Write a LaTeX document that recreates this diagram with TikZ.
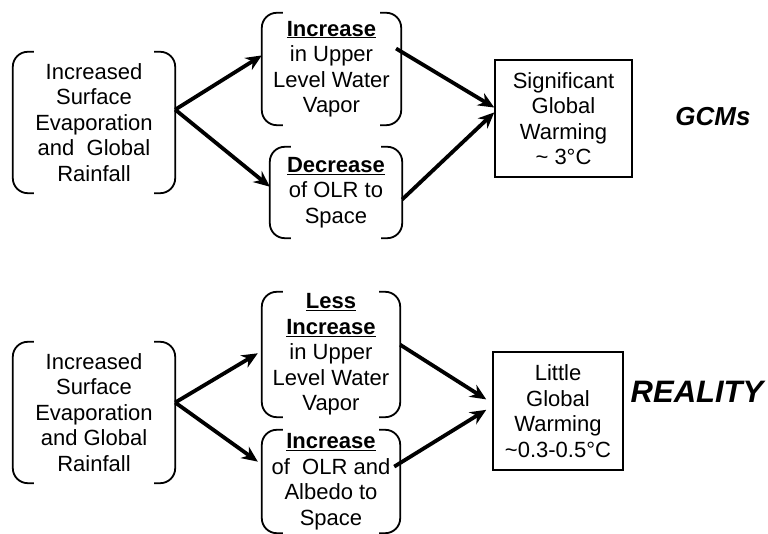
\documentclass[tikz,border=0pt]{standalone}
\usepackage{fontspec}
\setmainfont{Liberation Sans}
\usetikzlibrary{arrows.meta}

% rounded side brackets round a node
\newcommand{\sidebrackets}[1]{%
  \draw[bracket line] ([xshift=21pt]#1.north west) -- ([xshift=15pt]#1.north west)
    arc[start angle=90,end angle=180,radius=15pt] -- ([yshift=15pt]#1.south west)
    arc[start angle=180,end angle=270,radius=15pt] -- ([xshift=21pt]#1.south west);
  \draw[bracket line] ([xshift=-21pt]#1.north east) -- ([xshift=-15pt]#1.north east)
    arc[start angle=90,end angle=0,radius=15pt] -- ([yshift=15pt]#1.south east)
    arc[start angle=0,end angle=-90,radius=15pt] -- ([xshift=-21pt]#1.south east);
}

\begin{document}
\begin{tikzpicture}[x=1pt,y=1pt]
        \tikzstyle{every node}=[align=center, inner sep=0pt, font=\fontsize{22}{25.5}\selectfont]
        \tikzstyle{bracket line}=[line width=1.8pt]
        \tikzstyle{result}=[draw, line width=1.5pt]
        \tikzstyle{push}=[line width=3.8pt, -{Stealth[length=16pt,width=14pt]}]
        \tikzstyle{verdict}=[font=\fontsize{26}{30}\selectfont\bfseries\itshape]
        \useasboundingbox (0,0) rectangle (768,534);

        % GCMs
        \node[minimum width=162, minimum height=141] (A1) at (94,411.5) {Increased\\Surface\\Evaporation\\and\ \ Global\\Rainfall};
        \node[minimum width=139, minimum height=112] (B1) at (331.5,465) {\underline{\textbf{Increase}}\\in Upper\\Level Water\\Vapor};
        \node[minimum width=132, minimum height=91] (C1) at (336,341.5) {\underline{\textbf{Decrease}}\\of OLR to\\Space};
        \node[result, minimum width=137, minimum height=117] (D1) at (563.5,415.5) {Significant\\Global\\Warming\\\textasciitilde\ 3°C};
        \node[verdict] (G) at (713,417) {GCMs};
        \sidebrackets{A1}
        \sidebrackets{B1}
        \sidebrackets{C1}
        \draw[push] (A1.9) -- (B1.169);
        \draw[push] (A1.9) -- (C1.175);
        \draw[push, shorten <=-6pt] (B1.14) -- (D1.171);
        \draw[push] (C1.-6) -- (D1.175);

        % REALITY
        \node[minimum width=162, minimum height=141] (A2) at (94,121.5) {Increased\\Surface\\Evaporation\\and Global\\Rainfall};
        \node[minimum width=138, minimum height=125] (B2) at (331,179.5) {\underline{\textbf{Less}}\\\underline{\textbf{Increase}}\\in Upper\\Level Water\\Vapor};
        \node[minimum width=138, minimum height=103] (C2) at (331,52.5) {\underline{\textbf{Increase}}\\of\ \ OLR and\\Albedo to\\Space};
        \node[result, minimum width=130, minimum height=118] (D2) at (558,123) {Little\\Global\\Warming\\\textasciitilde0.3-0.5°C};
        \node[verdict, font=\fontsize{31}{35}\selectfont\bfseries\itshape] (R) at (697,142) {REALITY};
        \sidebrackets{A2}
        \sidebrackets{B2}
        \sidebrackets{C2}
        \draw[push] (A2.7) -- ([xshift=-4pt]B2.179);
        \draw[push] (A2.7) -- ([xshift=-4pt]C2.164);
        \draw[push] (B2.8) -- ([xshift=-6pt]D2.170);
        \draw[push, shorten <=-7pt] (C2.15) -- ([xshift=-6pt]D2.179);
    \end{tikzpicture}
\end{document}
